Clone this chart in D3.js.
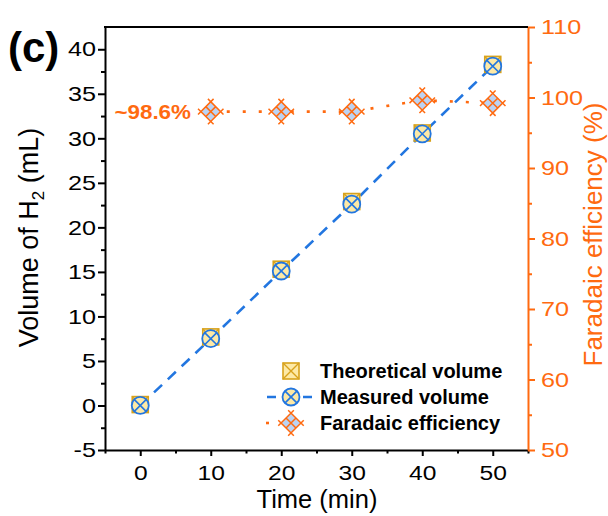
<!DOCTYPE html>
<html><head><meta charset="utf-8">
<script src="https://cdn.jsdelivr.net/npm/d3@7"></script>
<style>body{margin:0;background:#fff} text{font-family:"Liberation Sans",Arial,sans-serif}</style>
</head><body><svg id="c" width="608" height="516"></svg>
<script>
const times = [0, 10, 20, 30, 40, 50];
const theoretical = [0.1, 7.7, 15.3, 22.9, 30.6, 38.3];
const measured = [0, 7.5, 15.1, 22.6, 30.5, 38.1];
const feTimes = [10, 20, 30, 40, 50];
const faradaic = [98.0, 98.0, 98.0, 99.6, 99.2];
const xTicks = [0, 10, 20, 30, 40, 50];
const xMinor = [-5, 5, 15, 25, 35, 45, 55];
const yTicks = [-5, 0, 5, 10, 15, 20, 25, 30, 35, 40];
const yMinor = [-2.5, 2.5, 7.5, 12.5, 17.5, 22.5, 27.5, 32.5, 37.5];
const y2Ticks = [50, 60, 70, 80, 90, 100, 110];
const y2Minor = [55, 65, 75, 85, 95, 105];
const legendLabels = ["Theoretical volume", "Measured volume", "Faradaic efficiency"];

const ORANGE = "#ff6a10", BLUE = "#2276e0", YEL = "#fde9a6", GOLD = "#d8a21c", LBLUE = "#bcd3f3";
const L = 105, R = 528, T = 27, B = 450;
const svg = d3.select("#c");
const x = d3.scaleLinear().domain([-5, 55]).range([L, R]);
const y = d3.scaleLinear().domain([-5, 42.5]).range([B, T]);
const y2 = d3.scaleLinear().domain([50, 110]).range([B, T]);

function stretch(sel, k) {
  sel.each(function () {
    const len = this.getComputedTextLength();
    d3.select(this).attr("textLength", len * k).attr("lengthAdjust", "spacingAndGlyphs");
  });
}

// axes
const gx = svg.append("g").attr("transform", `translate(0,${B})`)
  .call(d3.axisBottom(x).tickValues(xTicks).tickSize(6).tickSizeOuter(0).tickPadding(9).tickFormat(d => String(d)));
svg.append("g").attr("transform", `translate(0,${B})`)
  .call(d3.axisBottom(x).tickValues(xMinor).tickSize(3.5).tickFormat(""))
  .call(g => g.select(".domain").remove());
const gy = svg.append("g").attr("transform", `translate(${L},0)`)
  .call(d3.axisLeft(y).tickValues(yTicks).tickSize(7).tickSizeOuter(0).tickPadding(2).tickFormat(d => String(d)));
svg.append("g").attr("transform", `translate(${L},0)`)
  .call(d3.axisLeft(y).tickValues(yMinor).tickSize(4).tickFormat(""))
  .call(g => g.select(".domain").remove());
const gy2 = svg.append("g").attr("transform", `translate(${R},0)`)
  .call(d3.axisRight(y2).tickValues(y2Ticks).tickSize(7).tickSizeOuter(0).tickPadding(6).tickFormat(d => String(d)));
const gy2m = svg.append("g").attr("transform", `translate(${R},0)`)
  .call(d3.axisRight(y2).tickValues(y2Minor).tickSize(4).tickFormat(""))
  .call(g => g.select(".domain").remove());

svg.selectAll(".tick line").attr("stroke-width", 2);
svg.selectAll(".domain").attr("stroke-width", 2);
gx.selectAll("text").attr("font-size", 20.5).attr("fill", "#000").attr("font-family", '"Liberation Sans",Arial,sans-serif');
gy.selectAll("text").attr("font-size", 21).attr("fill", "#000").attr("font-family", '"Liberation Sans",Arial,sans-serif');
gy2.selectAll("text").attr("font-size", 21).attr("fill", ORANGE).attr("font-family", '"Liberation Sans",Arial,sans-serif');
gy2.selectAll(".domain,.tick line").attr("stroke", ORANGE);
gy2m.selectAll(".tick line").attr("stroke", ORANGE);
stretch(gx.selectAll("text"), 1.2);
stretch(gy.selectAll("text"), 1.2);
stretch(gy2.selectAll("text"), 1.2);

// top frame
svg.append("line").attr("x1", L - 1).attr("x2", R).attr("y1", T).attr("y2", T).attr("stroke", "#000").attr("stroke-width", 2);

// axis titles
svg.append("text").attr("x", 317).attr("y", 508).attr("text-anchor", "middle")
  .attr("font-size", 25.5).text("Time (min)");
const yt = svg.append("text").attr("transform", `translate(38,${(T + B) / 2 - 1}) rotate(-90)`)
  .attr("text-anchor", "middle").attr("font-size", 27);
yt.append("tspan").text("Volume of H");
yt.append("tspan").attr("font-size", 17).attr("dy", 6).text("2");
yt.append("tspan").attr("dy", -6).text(" (mL)");
svg.append("text").attr("transform", `translate(602,${(T + B) / 2 - 4}) rotate(-90)`)
  .attr("text-anchor", "middle").attr("font-size", 26).attr("fill", ORANGE).text("Faradaic efficiency (%)");
svg.append("text").attr("x", 8).attr("y", 62).attr("font-size", 42).attr("font-weight", "bold").text("(c)");

// marker helpers
function sq(g, cx, cy) {
  const s = 8;
  const m = g.append("g").attr("transform", `translate(${cx},${cy})`);
  m.append("rect").attr("x", -s).attr("y", -s).attr("width", 2 * s).attr("height", 2 * s)
    .attr("fill", YEL).attr("stroke", GOLD).attr("stroke-width", 1.6);
  m.append("path").attr("d", `M${-s},${-s}L${s},${s}M${s},${-s}L${-s},${s}`).attr("stroke", GOLD).attr("stroke-width", 1.4);
}
function circ(g, cx, cy) {
  const r = 8.5, d = r * 0.72;
  const m = g.append("g").attr("transform", `translate(${cx},${cy})`);
  m.append("circle").attr("r", r).attr("fill", YEL).attr("stroke", BLUE).attr("stroke-width", 1.8);
  m.append("path").attr("d", `M${-d},${-d}L${d},${d}M${d},${-d}L${-d},${d}`).attr("stroke", BLUE).attr("stroke-width", 1.6);
}
function fe(g, cx, cy) {
  const a = 7, Ln = 11;
  const m = g.append("g").attr("transform", `translate(${cx},${cy}) rotate(45)`);
  m.append("rect").attr("x", -a).attr("y", -a).attr("width", 2 * a).attr("height", 2 * a).attr("fill", LBLUE);
  m.append("path").attr("d",
    `M${-a},${-Ln}V${Ln}M${a},${-Ln}V${Ln}M${-Ln},${-a}H${Ln}M${-Ln},${a}H${Ln}M0,${-a}V${a}M${-a},0H${a}`)
    .attr("stroke", ORANGE).attr("stroke-width", 1.5).attr("fill", "none");
}

// lines
const gl = svg.append("g");
gl.append("path").datum(times.map((t, i) => [t, measured[i]]))
  .attr("d", d3.line().x(d => x(d[0])).y(d => y(d[1])))
  .attr("fill", "none").attr("stroke", BLUE).attr("stroke-width", 2.6).attr("stroke-dasharray", "11,8");
gl.append("path").datum(feTimes.map((t, i) => [t, faradaic[i]]))
  .attr("d", d3.line().x(d => x(d[0])).y(d => y2(d[1])))
  .attr("fill", "none").attr("stroke", ORANGE).attr("stroke-width", 2.6).attr("stroke-dasharray", "3,13");

const gm = svg.append("g");
times.forEach((t, i) => sq(gm, x(t), y(theoretical[i])));
times.forEach((t, i) => circ(gm, x(t), y(measured[i])));
feTimes.forEach((t, i) => fe(gm, x(t), y2(faradaic[i])));

// annotation
const ann = svg.append("text").attr("x", 191).attr("y", y2(faradaic[0]) + 7).attr("text-anchor", "end")
  .attr("font-size", 20).attr("font-weight", "bold").attr("fill", ORANGE).text("~98.6%");
stretch(ann, 1.12);

// legend
const lg = svg.append("g");
const ly = [371, 397, 423];
sq(lg, 291, ly[0]);
lg.append("line").attr("x1", 266).attr("x2", 312).attr("y1", ly[1]).attr("y2", ly[1])
  .attr("stroke", BLUE).attr("stroke-width", 2.6).attr("stroke-dasharray", "9,9").attr("stroke-dashoffset", -1);
circ(lg, 291, ly[1]);
lg.append("line").attr("x1", 266).attr("x2", 269).attr("y1", ly[2]).attr("y2", ly[2])
  .attr("stroke", ORANGE).attr("stroke-width", 2.6);
fe(lg, 291, ly[2]);
legendLabels.forEach((t, i) => {
  lg.append("text").attr("x", 320).attr("y", ly[i] + 7).attr("font-size", 20).attr("font-weight", "bold").text(t);
});
</script></body></html>
